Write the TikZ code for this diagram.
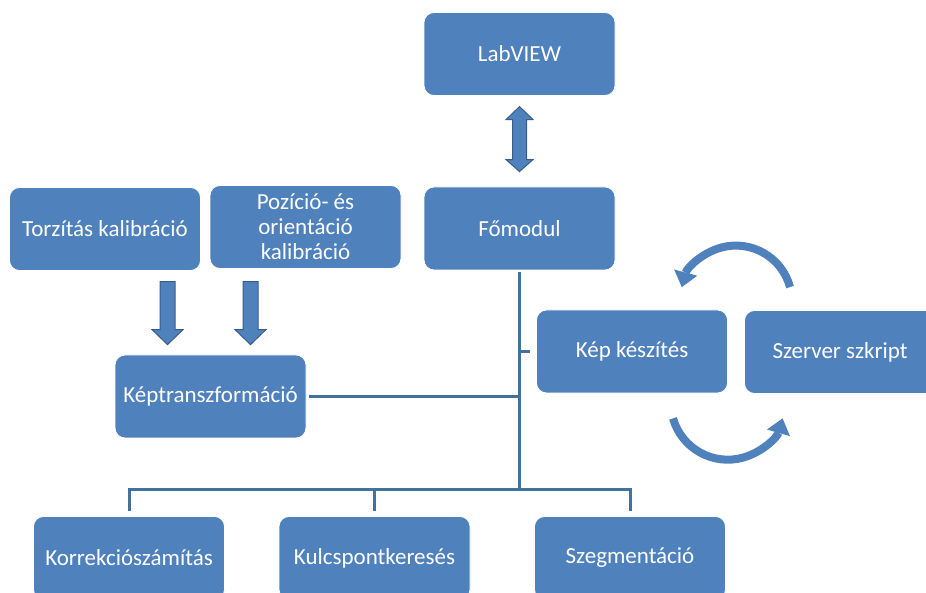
\documentclass[tikz,border=0pt]{standalone}
\usepackage{fontspec}
\setmainfont{Carlito}
\usepackage{tikz}
\usetikzlibrary{calc,arrows.meta}
\definecolor{boxblue}{HTML}{4F81BD}
\definecolor{edgeblue}{HTML}{385D8A}
\definecolor{lineblue}{HTML}{41719C}
\tikzset{
  box/.style={draw=white, line width=0.8pt, fill=boxblue, rounded corners=10pt,
    minimum width=191pt, minimum height=83pt, text=white, align=center,
    font=\fontsize{23}{25}\selectfont},
  conn/.style={draw=lineblue, line width=3pt},
  blockarr/.style={fill=boxblue, draw=edgeblue, line width=1pt, line join=miter},
  curv/.style={draw=boxblue, line width=8pt,
    -{Triangle[width=24pt,length=15pt,line width=0pt]}},
}

\begin{document}
\begin{tikzpicture}[x=1pt,y=1pt]
  \useasboundingbox (0,0) rectangle (926,592);

  \node[box] (lab)     at (519.5,538)   {LabVIEW};
  \node[box] (fomodul) at (519.5,363.5) {Főmodul};
  \node[box] (torz)    at (105,363)     {Torzítás kalibráció};
  \node[box] (pozi)    at (305.5,365)   {Pozíció- és\\orientáció\\kalibráció};
  \node[box] (kept)    at (210.5,195.5) {Képtranszformáció};
  \node[box] (kepk)    at (632,240.5)   {Kép készítés};
  \node[box] (szerv)   at (840,240)     {Szerver szkript};
  \node[box] (korr)    at (129,34)      {Korrekciószámítás};
  \node[box] (kulcs)   at (374.5,34)    {Kulcspontkeresés};
  \node[box] (szeg)    at (630,34)      {Szegmentáció};

  \coordinate (bus) at (fomodul.south |- 0,103);
  \draw[conn] ([yshift=-2pt]fomodul.south) -- (bus);
  \draw[conn] ([xshift=3pt]kept.east) -- (fomodul.south |- kept.east);
  \draw[conn] (fomodul.south |- kepk.west) -- ([xshift=-6pt]kepk.west);
  \draw[conn] ([xshift=-1.5pt]korr.north |- bus) -- ([xshift=1.5pt]szeg.north |- bus);
  \draw[conn] (korr.north |- bus) -- ([yshift=5pt]korr.north);
  \draw[conn] (kulcs.north |- bus) -- ([yshift=5pt]kulcs.north);
  \draw[conn] (szeg.north |- bus) -- ([yshift=5pt]szeg.north);

  \coordinate (d1) at ($(fomodul.north)+(0,15)$);
  \draw[blockarr] (d1) -- ++(-13.5,12) -- ++(6.5,0) -- ++(0,40) -- ++(-6.5,0)
    -- ++(13.5,13) -- ++(13.5,-13) -- ++(-6.5,0) -- ++(0,-40) -- ++(6.5,0) -- cycle;

  \coordinate (t1) at ($(kept.north)+(-43,10)$);
  \coordinate (t2) at ($(kept.north)+(40,10)$);
  \foreach \t in {t1,t2}
    \draw[blockarr] (\t) -- ++(-15.5,15) -- ++(8,0) -- ++(0,48) -- ++(15,0)
      -- ++(0,-48) -- ++(8,0) -- cycle;

  \coordinate (c1) at ($(szerv.north)+(-50,23)$);
  \coordinate (c2) at ($(kepk.south)+(41,-25)$);
  \draw[curv] (c1) arc[start angle=15, end angle=165, radius=56];
  \draw[curv] (c2) arc[start angle=196, end angle=344, radius=57];
\end{tikzpicture}
\end{document}
